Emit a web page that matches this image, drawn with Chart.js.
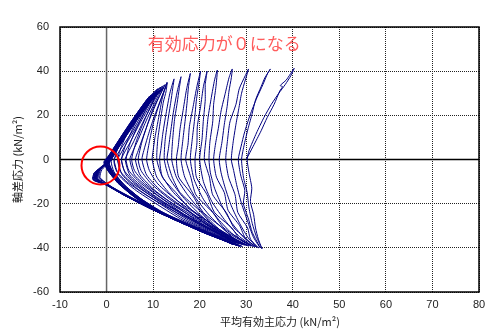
<!DOCTYPE html>
<html>
<head>
<meta charset="utf-8">
<script src="https://cdn.jsdelivr.net/npm/chart.js@4.4.0/dist/chart.umd.min.js"></script>
<style>
  html, body { margin: 0; padding: 0; background: #fff; }
  canvas { display: block; }
</style>
</head>
<body>
<canvas id="stressPath" width="486" height="334"></canvas>
<script>
// Effective stress path (p' vs q), cycle by cycle.
// Early cycles: p' drops from ~30 towards ~10, compression peaks at q ~ 40
const pEarly = [
  30.0,
  31.5,33.2,34.5,36.0,37.2,37.8,37.3,38.6,40.3, 39.6,38.4,37.0,35.4,33.8,32.2,30.6,30.2, 30.6,31.2,30.9,31.6,32.0,32.6,33.4,
  32.2,31.3,30.6,30.2,29.4,29.0, 29.6,30.4,31.3,32.0,33.2,34.0,35.2, 34.6,33.6,32.3,30.8,29.6,28.9,28.3, 28.8,29.7,29.4,30.5,31.3,33.0,
  31.5,30.3,29.0,28.0,27.3,26.8, 27.2,27.8,28.4,29.0,29.8,30.5, 29.8,28.5,27.8,26.5,26.0,25.6, 26.2,27.6,28.2,30.3,30.9,32.6,
  30.6,28.6,26.8,25.5,24.6,24.2, 24.8,25.3,25.9,26.3,26.8,27.0, 26.3,25.5,24.6,24.0,23.4,23.0, 23.6,25.3,26.1,28.6,29.9,32.2,
  29.8,27.0,24.8,23.2,22.3,22.0, 22.2,22.8,23.0,23.5,23.8, 23.2,22.5,21.8,21.4,21.0, 22.1,22.8,25.7,27.4,30.1,31.8,
  28.6,25.6,22.6,20.8,20.0, 20.5,20.8,21.2,21.2,21.6, 20.8,20.2,19.5,19.4,19.0, 19.3,21.6,23.2,26.9,28.6,31.4,
  27.2,24.0,20.8,18.8,18.0, 18.4,18.9,19.3,19.8,20.2, 19.4,18.6,17.8,17.5,17.0, 18.1,19.2,22.8,25.2,28.7,31.0,
  26.0,22.4,19.0,16.8,16.0, 16.4,16.9,17.3,17.6,18.0, 17.2,16.5,15.8,15.4,15.0, 15.5,18.4,20.8,24.9,27.5,30.6,
  25.0,21.0,17.4,15.0,14.0, 14.2,14.6,15.2,15.6,16.0, 15.2,14.4,13.8,13.3,13.0, 14.1,15.8,19.9,23.0,27.3,30.2,
  24.0,19.6,16.0,13.4,12.4, 12.6,13.2,13.8,14.2,14.5, 13.6,12.8,12.1,11.7,11.4, 12.0,14.9,17.8,22.5,25.7,29.8,
  23.0,18.4,14.4,11.8,10.8, 11.0,11.6,12.2,12.8,13.0, 12.0,11.2,10.4,10.0,9.8, 10.8,13.4,17.0,21.2,25.4,29.4
];
const qEarly = [
  0,
  6,13,19,25,31,33,33.5,36,41.3, 38,34,30,25,19,12,4,0, -6,-13,-19,-25,-31,-36,-40.5,
  -35,-29,-22,-15,-8,0, 7,14,21,27,33,37,41, 39,34,28,20,12,6,0, -7,-14,-20,-27,-33,-40,
  -35,-28,-20,-12,-5,0, 8,16,23,30,36,41, 38,32,25,17,9,0, -8,-16,-24,-31,-36,-40,
  -36,-29,-21,-13,-6,0, 8,16,24,31,37,41, 37,30,22,14,7,0, -8,-15,-23,-30,-36,-39.6,
  -36,-29,-21,-13,-6,0, 8,17,25,33,40.5, 36,28,19,10,0, -8,-16,-24,-31,-36,-39.6,
  -35,-28,-19,-10,0, 9,18,27,34,40, 33,24,15,7,0, -8,-16,-24,-31,-36,-39.3,
  -34,-27,-18,-9,0, 9,18,27,34,40, 33,24,15,7,0, -8,-16,-24,-31,-36,-39.2,
  -33,-26,-17,-8,0, 9,18,26,33,39, 32,23,14,6,0, -8,-16,-24,-31,-36,-39.2,
  -33,-25,-16,-8,0, 9,18,26,32,37.5, 31,22,13,5,0, -8,-15,-23,-30,-35.5,-39,
  -32,-24,-16,-8,0, 9,18,26,32,36.5, 30,21,12,5,0, -8,-15,-22,-29,-35,-38.8,
  -31,-23,-15,-7,0, 9,18,26,31,35, 28,19,10,4,0, -8,-15,-22,-29,-35,-38.6
];

// Middle cycles: p' at q = 0 goes from ~9 to ~2
const pMid = [
  24.5,19.5,14.8,11.0,9.2,8.6, 9.2,10.0,11.0,12.0,13.0, 11.6,10.0,8.8,8.0,7.6, 8.6,11.6,16.0,20.6,25.2,29.0,
  24.0,18.8,13.6,9.6,7.4,6.8, 7.6,8.8,10.0,11.4,12.6, 11.0,9.2,7.8,6.8,6.2, 7.2,10.4,14.8,19.6,24.4,28.6,
  23.2,17.8,12.4,8.4,6.0,5.4, 6.2,7.4,8.8,10.4,12.2, 10.4,8.4,6.8,5.6,5.0, 6.0,9.4,14.0,19.0,24.0,28.4,
  22.6,16.8,11.4,7.2,4.8,4.2, 5.0,6.4,8.0,9.8,11.8, 9.8,7.6,5.8,4.6,4.0, 5.0,8.4,13.2,18.2,23.4,28.2,
  22.0,16.0,10.4,6.2,3.8,3.2, 4.0,5.4,7.0,9.0,11.4, 9.2,6.8,5.0,3.8,3.2, 4.2,7.6,12.4,17.6,23.0,28.0,
  21.4,15.2,9.6,5.4,3.0,2.4, 3.2,4.6,6.4,8.6,11.0, 8.6,6.2,4.2,3.0,2.4, 3.4,6.8,11.8,17.0,22.6,27.8,
  21.0,14.6,8.8,4.6,2.2,1.6, 2.4,3.8,5.8,8.2,10.8, 8.0,5.6,3.6,2.2,1.6, 2.6,6.0,11.0,16.4,22.2,27.6
];
const qMid = [
  -32,-25,-18,-11,-5,0, 8,16,23,29,34.5, 27,18,10,4,0, -7,-14,-21,-28,-34,-38.4,
  -32,-25,-18,-11,-5,0, 8,16,23,29,34, 27,18,10,4,0, -7,-14,-21,-28,-33.5,-38.2,
  -31.5,-24.5,-17.5,-11,-5,0, 7,14,21,28,33.5, 26,17,9,3.5,0, -7,-13.5,-21,-28,-33.5,-38,
  -31,-24,-17,-10.5,-5,0, 7,14,21,28,33, 25,16,8,3,0, -7,-13.5,-20.5,-27.5,-33,-38,
  -31,-24,-17,-10.5,-5,0, 6,13,20,27,32.5, 24,15,7.5,3,0, -7,-13.5,-20.5,-27.5,-33,-37.8,
  -30.5,-23.5,-16.5,-10.5,-5.5,0, 6,12.5,20,27,32, 23,14,7,2.5,0, -7,-13.5,-20.5,-27.5,-33,-37.6,
  -30.5,-23.5,-16.5,-10.5,-5.5,-1, 5,11,18,25.5,31.5, 22,13,6.5,2,0, -7,-13.5,-20.5,-27.5,-33,-37.6
];

// Late cycles: butterfly loops through the origin (effective stress ~ 0)
const pLate = [
  22.4,16.8,11.6,7.0,3.6,1.6,1.0, 1.8,3.6,6.0,8.6,10.8, 9.0,6.6,4.4,2.4,0.6,-1.0, -1.4,1.0,4.8,10.4,16.0,21.8,28.8,
  23.0,17.6,12.2,7.4,3.8,1.4,0.4, 1.2,3.0,5.4,8.2,11.6, 9.6,7.0,4.6,2.6,0.8,-1.6, -2.0,0.6,4.4,10.0,15.6,21.4,28.2,
  22.0,16.2,11.0,6.4,3.0,0.8,0.0, 0.8,2.6,5.0,7.6,9.8, 8.2,5.8,3.6,1.8,0.2,-1.8, -2.4,0.4,4.0,9.6,15.2,21.0,27.6,
  22.8,17.2,11.8,6.8,3.2,1.0,0.2, 1.0,2.8,5.2,8.0,12.2, 10.0,7.4,5.0,2.8,1.0,-1.2, -1.6,1.2,5.0,10.6,16.2,22.0,28.6,
  23.4,17.8,12.4,7.6,4.0,1.6,0.6, 1.4,3.2,5.6,8.4,10.4, 8.8,6.4,4.2,2.2,0.4,-2.2, -2.6,0.2,3.8,9.4,15.0,20.8,27.2,
  21.6,15.8,10.6,6.0,2.6,0.4,-0.4, 0.6,2.4,4.8,7.4,10.6, 8.6,6.0,3.8,2.0,0.2,-2.0, -2.2,0.8,4.6,10.2,15.8,21.6,28.0,
  22.6,17.0,11.6,6.8,3.2,1.0,0.2, 1.0,2.8,5.2,7.8,11.2, 9.2,6.6,4.2,2.2,0.4,-1.6, -2.0,1.0,4.8,10.4,16.0,21.8,28.4,
  22.2,16.6,11.2,6.4,2.8,0.6,-0.2, 0.8,2.6,5.0,7.6,10.0, 8.4,6.0,3.8,1.8,0.0,-2.4, -2.8,0.0,3.6,9.2,14.8,20.6,27.4,
  22.0,16.4,11.0,6.2,2.6,0.4,-0.4, 0.6,2.4,4.8,7.4,9.6, 8.0,5.6,3.4,1.6,-0.2,-2.6, -3.0,-0.2,3.4,9.0,14.6,20.4,27.0,
  21.8,16.2,10.8,6.0,2.4,0.2,-0.6, 0.4,2.2,4.6,7.2,9.2, 7.6,5.2,3.0,1.2,-0.6,-2.8, -2.4,0.6,4.2,9.8,15.4,21.2,28.0,
  22.6,16.6,11.4,6.6,3.0,0.8,0.0, 1.2,3.0,5.4,8.0,11.0, 9.0,6.6,4.2,2.2,0.2,-1.8, -2.2,0.8,4.4,10.0,15.8,21.6,28.6,
  23.0,17.4,12.0,7.2,3.4,1.2,0.4, 1.4,3.4,5.8,8.8,12.0, 9.8,7.2,4.8,2.6,0.6,-1.4, -1.8,1.2,5.0,10.6,16.4,22.2,29.2,
  23.6,18.0,12.6,7.8,4.0,1.4,0.6, 1.6,3.4,5.6,8.4,10.2, 8.6,6.2,4.0,2.0,0.0,-2.0, -2.4,0.4,4.0,9.8,15.6,21.4,28.2,
  22.4,16.8,11.4,6.6,3.0,0.8,-0.2, 0.8,2.6,5.0,7.8,10.8, 8.8,6.4,4.0,2.0,0.2,-2.2, -2.6,0.2,3.8,9.4,15.2,21.0,27.8,
  22.0,16.4,11.0,6.2,2.6,0.4,-0.4, 0.6,2.4,4.8,7.6,11.4, 9.4,6.8,4.4,2.4,0.4,-1.8, -2.2,0.8,4.6,10.2,16.0,21.8,28.6,
  22.8,17.2,11.8,7.0,3.4,1.0,0.2, 1.0,2.8,5.2,8.0,10.0, 8.4,6.0,3.8,1.8,-0.2,-2.4, -2.8,0.0,3.6,9.2,15.0,20.8,27.6,
  21.8,16.2,10.8,6.2,2.8,0.6,-0.2, 0.8,2.6,5.0,7.8,10.6, 8.6,6.2,4.0,2.0,0.0,-2.0, -2.4,0.6,4.2,9.8,15.6,21.4,28.2,
  22.0,16.2,10.8,6.0,2.4,0.2,-0.4
];
const qLate = [
  -33.4,-28.6,-23.4,-17.2,-11.2,-5.6,-1.0, 3.6,9.6,17.2,25.0,30.6, 26.0,19.0,12.0,5.2,-1.2,-4.6, -8.2,-12.2,-16.6,-22.6,-28.0,-33.4,-39.2,
  -34.0,-29.2,-24.0,-17.8,-11.6,-5.8,-1.6, 2.8,8.4,16.2,24.6,31.6, 26.8,19.6,12.2,5.6,-0.6,-5.2, -8.6,-12.4,-16.8,-22.8,-28.2,-33.6,-39.0,
  -33.6,-28.8,-23.6,-17.4,-11.0,-5.2,-1.4, 2.2,8.0,15.6,23.6,29.4, 25.0,18.0,11.0,4.6,-1.4,-5.4, -9.0,-12.0,-16.4,-22.4,-27.8,-33.2,-38.6,
  -34.2,-29.4,-24.2,-17.8,-11.4,-5.6,-1.8, 2.6,8.6,16.2,24.4,32.2, 27.4,20.4,13.0,6.2,0.0,-4.4, -8.0,-12.6,-17.0,-22.8,-28.2,-33.4,-39.4,
  -34.6,-29.8,-24.6,-18.2,-11.8,-6.0,-2.0, 3.2,9.2,16.8,25.0,30.0, 25.8,18.8,11.6,4.8,-1.0,-5.6, -9.2,-11.8,-16.0,-22.0,-27.4,-32.8,-38.4,
  -33.2,-28.4,-23.2,-17.0,-10.6,-5.0,-1.2, 1.8,7.6,15.2,23.2,30.6, 25.6,18.4,11.2,4.6,-1.2,-5.2, -8.8,-12.4,-16.8,-22.8,-28.2,-33.6,-38.8,
  -33.8,-29.0,-23.8,-17.6,-11.2,-5.4,-1.6, 2.6,8.4,16.0,23.8,31.0, 26.2,19.0,11.8,5.0,-1.0,-4.8, -8.4,-12.6,-17.0,-23.0,-28.4,-33.8,-39.0,
  -33.6,-28.8,-23.6,-17.4,-11.0,-5.2,-1.6, 2.2,8.0,15.6,23.6,29.6, 25.2,18.2,11.0,4.4,-1.6,-5.8, -9.4,-11.4,-15.6,-21.6,-27.0,-32.4,-38.6,
  -33.4,-28.6,-23.4,-17.2,-10.8,-5.0,-1.4, 2.0,7.8,15.4,23.4,29.2, 24.6,17.6,10.6,4.2,-1.8,-6.0, -9.0,-11.0,-15.2,-21.2,-26.6,-32.0,-38.4,
  -33.2,-28.4,-23.2,-17.0,-10.6,-4.8,-1.2, 1.6,7.4,15.0,23.0,28.6, 24.0,17.0,10.0,3.8,-2.2,-6.4, -8.8,-12.2,-16.6,-22.6,-28.0,-33.4,-38.8,
  -34.0,-28.8,-23.8,-17.6,-11.2,-5.2,-1.0, 2.8,8.8,16.4,24.4,31.0, 25.8,19.0,11.6,4.8,-1.4,-5.0, -8.6,-12.4,-16.8,-22.8,-28.4,-33.6,-39.2,
  -34.4,-29.4,-24.2,-18.0,-11.6,-5.6,-1.4, 3.2,9.6,17.0,25.6,32.2, 27.0,20.2,12.6,5.4,-0.8,-4.6, -8.2,-12.6,-17.2,-23.2,-28.8,-34.0,-39.4,
  -34.8,-30.0,-24.8,-18.6,-12.2,-6.0,-1.8, 3.8,9.8,16.6,25.0,29.8, 25.4,18.4,11.4,4.6,-1.6,-5.4, -8.8,-12.0,-16.4,-22.6,-28.2,-33.4,-38.8,
  -33.8,-28.8,-23.8,-17.4,-11.0,-5.2,-1.2, 2.4,8.2,15.8,24.0,30.8, 25.6,18.6,11.4,4.6,-1.4,-5.6, -9.0,-11.8,-16.2,-22.2,-27.8,-33.2,-38.6,
  -33.4,-28.6,-23.4,-17.2,-10.8,-5.0,-1.2, 2.0,7.8,15.4,23.6,31.4, 26.4,19.4,12.0,5.0,-1.0,-5.0, -8.6,-12.4,-16.8,-22.8,-28.4,-33.8,-39.2,
  -34.0,-29.2,-24.0,-17.8,-11.4,-5.4,-1.4, 2.6,8.4,16.0,24.2,29.4, 25.0,18.0,11.0,4.2,-2.0,-6.0, -9.2,-11.4,-15.8,-21.8,-27.4,-32.8,-38.4,
  -33.2,-28.4,-23.2,-17.2,-10.8,-5.0,-1.4, 2.4,8.2,15.8,24.0,30.6, 25.4,18.4,11.2,4.4,-1.6,-5.4, -8.8,-12.2,-16.6,-22.6,-28.2,-33.6,-39.0,
  -33.6,-28.6,-23.2,-17.0,-10.6,-4.8,-1.0
];

// axis ticks
const xTicks = [-10, 0, 10, 20, 30, 40, 50, 60, 70, 80];
const yTicks = [-60, -40, -20, 0, 20, 40, 60];

// red circle marking zero effective stress, and its note
const circleP = [-1.3];
const circleQ = [-2.7];
const noteText = '有効応力が０になる';
const noteP = [25.3];
const noteQ = [52.6];

function toPoints(ps, qs) {
    if (ps.length !== qs.length) console.warn('length mismatch', ps.length, qs.length);
    return ps.map((p, i) => ({ x: p, y: qs[i] }));
}

const pathPoints = toPoints(pEarly, qEarly)
    .concat(toPoints(pMid, qMid))
    .concat(toPoints(pLate, qLate));

const xMin = xTicks[0], xMax = xTicks[xTicks.length - 1];
const yMin = yTicks[0], yMax = yTicks[yTicks.length - 1];

const overlayPlugin = {
    id: 'overlay',
    afterDatasetsDraw(chart) {
        const { ctx, chartArea, scales } = chart;
        ctx.save();
        // frame
        ctx.strokeStyle = '#000';
        ctx.lineWidth = 1.5;
        ctx.strokeRect(chartArea.left, chartArea.top, chartArea.right - chartArea.left, chartArea.bottom - chartArea.top);

        // red circle around the zero effective stress point
        ctx.strokeStyle = '#ff0000';
        ctx.lineWidth = 2;
        ctx.beginPath();
        ctx.arc(scales.x.getPixelForValue(circleP[0]), scales.y.getPixelForValue(circleQ[0]), 19, 0, Math.PI * 2);
        ctx.stroke();

        // red note
        ctx.fillStyle = '#ff5c5c';
        ctx.font = '17px "Noto Sans CJK JP"';
        ctx.textAlign = 'center';
        ctx.textBaseline = 'middle';
        ctx.fillText(noteText, scales.x.getPixelForValue(noteP[0]), scales.y.getPixelForValue(noteQ[0]));

        // axis titles
        ctx.fillStyle = '#222';
        ctx.font = '11px "Noto Sans CJK JP"';
        ctx.fillText('平均有効主応力 (kN/m²)', 280, 322);
        ctx.translate(18, (chartArea.top + chartArea.bottom) / 2);
        ctx.rotate(-Math.PI / 2);
        ctx.fillText('軸差応力 (kN/m²)', 0, 0);
        ctx.restore();
    }
};

const ctx = document.getElementById('stressPath').getContext('2d');
const chart = new Chart(ctx, {
    type: 'scatter',
    data: {
        datasets: [
            {
                data: pathPoints,
                showLine: true,
                borderColor: '#000080',
                borderWidth: 1,
                pointRadius: 0,
                tension: 0.2,
                order: 1
            },
            {
                data: [{ x: xMin, y: 0 }, { x: xMax, y: 0 }],
                showLine: true,
                borderColor: '#000',
                borderWidth: 1.5,
                pointRadius: 0,
                order: 2
            },
            {
                data: [{ x: 0, y: yMin }, { x: 0, y: yMax }],
                showLine: true,
                borderColor: '#666',
                borderWidth: 1.5,
                pointRadius: 0,
                order: 3
            }
        ]
    },
    options: {
        responsive: false,
        animation: false,
        events: [],
        layout: { padding: { top: 27, right: 0, left: 0, bottom: 0 } },
        plugins: {
            legend: { display: false },
            tooltip: { enabled: false }
        },
        scales: {
            x: {
                type: 'linear',
                min: xMin,
                max: xMax,
                afterBuildTicks: s => { s.ticks = xTicks.map(v => ({ value: v })); },
                afterFit: s => {
                    s.height = 42;
                    s.paddingLeft = 0;
                    s.paddingRight = 7;
                },
                ticks: {
                    color: '#222',
                    padding: 6,
                    font: { family: 'Liberation Sans', size: 11 }
                },
                grid: { color: '#222', lineWidth: 1, drawTicks: false },
                border: { display: false, dash: [1, 1] }
            },
            y: {
                type: 'linear',
                min: yMin,
                max: yMax,
                afterBuildTicks: s => { s.ticks = yTicks.map(v => ({ value: v })); },
                afterFit: s => { s.width = 60; },
                ticks: {
                    color: '#222',
                    padding: 11,
                    font: { family: 'Liberation Sans', size: 11 }
                },
                grid: { color: '#222', lineWidth: 1, drawTicks: false },
                border: { display: false, dash: [1, 1] }
            }
        }
    },
    plugins: [overlayPlugin]
});
</script>
</body>
</html>
